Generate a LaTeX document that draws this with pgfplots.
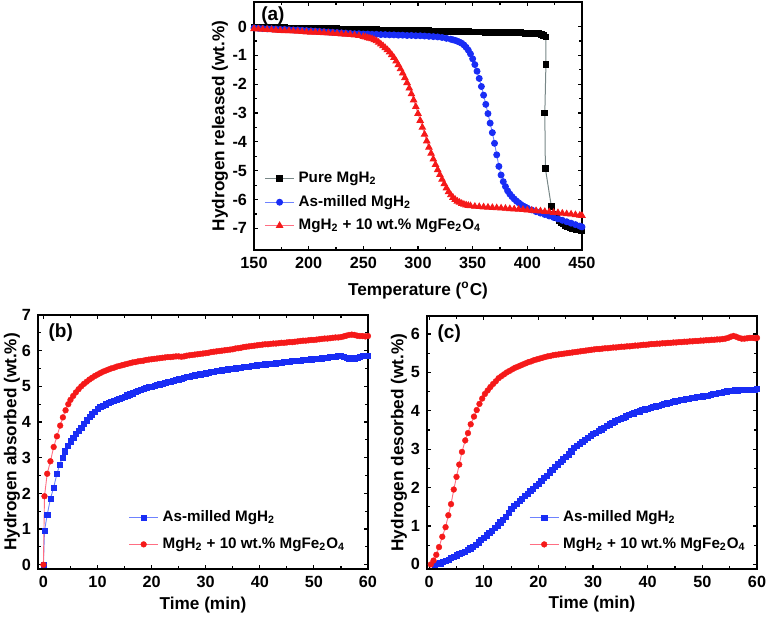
\documentclass[border=0pt]{standalone}
\usepackage{pgfplots}
\pgfplotsset{compat=1.18}
\usepackage{fontspec}
\setmainfont{Liberation Sans}
\definecolor{bmk}{RGB}{25,45,245}
\definecolor{bln}{RGB}{110,130,255}
\definecolor{rmk}{RGB}{245,25,25}
\definecolor{rln}{RGB}{255,110,130}
\definecolor{gln}{RGB}{120,135,135}
\pgfplotsset{
  panel/.style={
    scale only axis, anchor=south west,
    axis line style={line width=0.9pt},
    tick align=inside, major tick length=2.2pt, minor tick length=1.3pt,
    every tick/.style={black, line width=0.6pt},
    minor tick num=1,
    ticklabel style={font=\bfseries\fontsize{8.1}{9}\selectfont},
    /pgf/number format/assume math mode=true,
    label style={font=\bfseries\fontsize{8.6}{10}\selectfont},
    legend style={draw=none, fill=none, font=\bfseries\fontsize{7.6}{9}\selectfont, row sep=2.4pt, inner sep=1pt},
    legend cell align=left,
    legend image code/.code={
      \draw[#1] (0pt,0pt) -- (14.5pt,0pt);
      \draw[#1, only marks] plot coordinates {(7.25pt,0pt)};
    },
  },
  sq/.style={color=bln, line width=0.45pt, mark=square*, mark size=1.3pt, mark options={fill=bmk, draw=bmk, line width=0.2pt}},
  ci/.style={color=rln, line width=0.45pt, mark=*, mark size=1.45pt, mark options={fill=rmk, draw=rmk, line width=0.2pt}},
}
\begin{document}
\begin{tikzpicture}
\useasboundingbox (0,0) rectangle (383.5pt,309pt);
% ---------------- (a) ----------------
\begin{axis}[panel, at={(127pt,184pt)}, width=164pt, height=124pt,
  xmin=150, xmax=450, ymin=-7.75, ymax=0.85,
  xtick={150,200,...,450}, ytick={-7,-6,...,0},
  xlabel={Temperature (\textsuperscript{o}C)},
  ylabel={Hydrogen released (wt.\%)},
  xlabel style={at={(axis description cs:0.5,-0.163)}, anchor=center},
  ylabel style={at={(axis description cs:-0.104,0.5)}, anchor=center},
  legend style={at={(0.025,0.045)}, anchor=south west, row sep=0.8pt},
]
\addplot[color=gln, line width=0.5pt, mark=square*, mark size=1.45pt, mark options={fill=black, draw=black}] coordinates {
(150,-0.02)(154,-0.02)(158,-0.03)(162,-0.03)(166,-0.03)(170,-0.04)(174,-0.04)(178,-0.04)(182,-0.05)(186,-0.05)
(190,-0.05)(194,-0.06)(198,-0.06)(202,-0.06)(206,-0.07)(210,-0.07)(214,-0.07)(218,-0.08)(222,-0.08)(226,-0.08)
(230,-0.09)(234,-0.09)(238,-0.09)(242,-0.10)(246,-0.10)(250,-0.10)(254,-0.11)(258,-0.11)(262,-0.11)(266,-0.12)
(270,-0.12)(274,-0.12)(278,-0.13)(282,-0.13)(286,-0.13)(290,-0.14)(294,-0.14)(298,-0.14)(302,-0.15)(306,-0.15)
(310,-0.15)(314,-0.16)(318,-0.16)(322,-0.16)(326,-0.17)(330,-0.17)(334,-0.17)(338,-0.18)(342,-0.18)(346,-0.18)
(350,-0.19)(354,-0.19)(358,-0.19)(362,-0.20)(366,-0.20)(370,-0.20)(374,-0.21)(378,-0.21)(382,-0.21)(386,-0.22)
(390,-0.22)(394,-0.22)(398,-0.23)(402,-0.23)(406,-0.24)(410,-0.25)(413,-0.27)(415,-0.30)(417,-0.36)
(417,-1.33)(416,-3.0)(416.5,-4.92)(422,-6.25)
(425,-6.50)(427,-6.62)(429,-6.72)(431,-6.79)(433,-6.85)(435,-6.90)(437,-6.94)(439,-6.97)(441,-7.00)(443,-7.02)
(445,-7.04)(447,-7.05)(449,-7.06)(450,-7.07)};
\addlegendentry{Pure MgH\textsubscript{2}}
\addplot[color=bln, line width=0.45pt, mark=*, mark size=1.5pt, mark options={fill=bmk, draw=bmk}] coordinates {
(150,-0.05)(154,-0.06)(158,-0.07)(162,-0.08)(166,-0.08)(170,-0.09)(174,-0.10)(178,-0.10)(182,-0.11)(186,-0.12)
(190,-0.12)(194,-0.13)(198,-0.14)(202,-0.15)(206,-0.16)(210,-0.17)(214,-0.18)(218,-0.19)(222,-0.20)(226,-0.21)
(230,-0.22)(234,-0.23)(238,-0.24)(242,-0.25)(246,-0.25)(250,-0.26)(254,-0.26)(258,-0.27)(262,-0.27)(266,-0.28)
(270,-0.28)(274,-0.29)(278,-0.29)(282,-0.30)(286,-0.30)(290,-0.31)(294,-0.31)(298,-0.32)(302,-0.32)(306,-0.33)
(310,-0.34)(314,-0.35)(318,-0.36)(322,-0.38)(326,-0.41)(330,-0.44)(332,-0.46)(334,-0.48)(336,-0.51)(338,-0.54)
(340,-0.58)(342,-0.64)(344,-0.72)(346,-0.82)(348,-0.95)(350,-1.12)(352,-1.32)(354,-1.55)(356,-1.80)(358,-2.08)
(360,-2.38)(362,-2.70)(364,-3.02)(366,-3.35)(368,-3.68)(370,-4.05)(372,-4.45)(374,-4.85)(376,-5.15)(378,-5.38)
(380,-5.55)(382,-5.70)(384,-5.81)(386,-5.90)(388,-5.98)(390,-6.05)(392,-6.11)(394,-6.17)(396,-6.22)(398,-6.26)
(400,-6.30)(404,-6.36)(408,-6.42)(412,-6.47)(416,-6.52)(420,-6.57)(424,-6.62)(428,-6.67)(432,-6.72)(436,-6.77)
(440,-6.82)(444,-6.87)(448,-6.92)(450,-6.95)};
\addlegendentry{As-milled MgH\textsubscript{2}}
\addplot[color=rln, line width=0.45pt, mark=triangle*, mark size=1.8pt, mark options={fill=rmk, draw=rmk}] coordinates {
(150,-0.08)(154,-0.09)(158,-0.10)(162,-0.11)(166,-0.12)(170,-0.13)(174,-0.14)(178,-0.15)(182,-0.15)(186,-0.16)
(190,-0.17)(194,-0.18)(198,-0.19)(202,-0.20)(206,-0.20)(210,-0.21)(214,-0.22)(218,-0.23)(222,-0.24)(226,-0.25)
(230,-0.26)(234,-0.27)(238,-0.28)(242,-0.30)(246,-0.32)(250,-0.35)(252,-0.37)(254,-0.39)(256,-0.41)(258,-0.43)
(260,-0.46)(262,-0.50)(264,-0.55)(266,-0.61)(268,-0.67)(270,-0.74)(272,-0.81)(274,-0.89)(276,-0.98)(278,-1.08)
(280,-1.20)(282,-1.33)(284,-1.47)(286,-1.62)(288,-1.78)(290,-1.95)(292,-2.14)(294,-2.34)(296,-2.55)(298,-2.78)
(300,-3.02)(302,-3.26)(304,-3.50)(306,-3.74)(308,-3.97)(310,-4.19)(312,-4.40)(314,-4.60)(316,-4.79)(318,-4.97)
(320,-5.14)(322,-5.30)(324,-5.46)(326,-5.60)(328,-5.73)(330,-5.84)(332,-5.93)(334,-6.00)(336,-6.06)(338,-6.10)
(340,-6.14)(342,-6.17)(344,-6.19)(346,-6.21)(348,-6.22)(352,-6.24)(356,-6.25)(360,-6.26)(364,-6.27)(368,-6.28)
(372,-6.29)(376,-6.30)(380,-6.31)(384,-6.32)(388,-6.33)(392,-6.34)(396,-6.35)(400,-6.37)(404,-6.38)(408,-6.39)
(412,-6.40)(416,-6.42)(420,-6.43)(424,-6.45)(428,-6.46)(432,-6.48)(436,-6.50)(440,-6.51)(444,-6.53)(448,-6.55)(450,-6.56)};
\addlegendentry{MgH\textsubscript{2} + 10 wt.\% MgFe\textsubscript{2}O\textsubscript{4}}
\node[anchor=north west, font=\bfseries\fontsize{9.5}{11}\selectfont, inner sep=1pt] at (rel axis cs:0.015,0.99) {(a)};
\end{axis}
% ---------------- (b) ----------------
\begin{axis}[panel, at={(19pt,24.5pt)}, width=165pt, height=127pt,
  xmin=-1, xmax=60, ymin=-0.12, ymax=7,
  xtick={0,10,...,60}, ytick={0,1,...,7},
  xlabel={Time (min)},
  ylabel={Hydrogen absorbed (wt.\%)},
  xlabel style={at={(axis description cs:0.5,-0.14)}, anchor=center},
  ylabel style={at={(axis description cs:-0.079,0.5)}, anchor=center},
  legend style={at={(0.95,0.045)}, anchor=south east},
]
\addplot[sq] coordinates {
(0,0)(0.2,0.95)(0.7,1.4)(1.3,1.85)(1.9,2.17)(2.5,2.55)(3.0,2.8)(3.5,3.0)(4.0,3.18)(4.5,3.33)
(5.0,3.46)(5.5,3.57)(6.0,3.67)(6.5,3.76)(7.0,3.85)(7.5,3.95)(8.0,4.05)(8.5,4.14)(9.0,4.22)(9.5,4.30)
(10,4.37)(10.5,4.42)(11,4.46)(11.5,4.50)(12,4.54)(12.5,4.57)(13,4.60)(13.5,4.63)(14,4.66)(14.5,4.69)
(15,4.72)(15.5,4.75)(16,4.78)(16.5,4.81)(17,4.84)(17.5,4.87)(18,4.90)(18.5,4.93)(19,4.96)(19.5,4.98)
(20,5.00)(20.5,5.02)(21,5.04)(21.5,5.06)(22,5.08)(22.5,5.10)(23,5.12)(23.5,5.14)(24,5.16)(24.5,5.18)
(25,5.20)(25.5,5.22)(26,5.24)(26.5,5.26)(27,5.28)(27.5,5.30)(28,5.31)(28.5,5.32)(29,5.34)(29.5,5.36)
(30,5.37)(30.5,5.38)(31,5.40)(31.5,5.41)(32,5.43)(32.5,5.44)(33,5.45)(33.5,5.46)(34,5.48)(34.5,5.49)
(35,5.50)(35.5,5.51)(36,5.52)(36.5,5.53)(37,5.54)(37.5,5.55)(38,5.56)(38.5,5.57)(39,5.58)(39.5,5.59)
(40,5.60)(40.5,5.61)(41,5.62)(41.5,5.63)(42,5.64)(42.5,5.64)(43,5.65)(43.5,5.66)(44,5.67)(44.5,5.68)
(45,5.69)(45.5,5.70)(46,5.71)(46.5,5.72)(47,5.72)(47.5,5.73)(48,5.74)(48.5,5.75)(49,5.75)(49.5,5.76)
(50,5.77)(50.5,5.78)(51,5.78)(51.5,5.79)(52,5.80)(52.5,5.81)(53,5.82)(53.5,5.83)(54,5.84)(54.5,5.85)
(55,5.86)(55.5,5.84)(56,5.81)(56.5,5.79)(57,5.78)(57.5,5.79)(58,5.81)(58.5,5.83)(59,5.85)(59.5,5.86)(60,5.87)};
\addlegendentry{As-milled MgH\textsubscript{2}}
\addplot[ci] coordinates {
(0,0)(0.2,1.92)(0.7,2.55)(1.3,2.9)(1.9,3.3)(2.5,3.6)(3.1,3.9)(3.6,4.13)(4.1,4.33)(4.6,4.5)
(5.0,4.62)(5.5,4.73)(6.0,4.83)(6.5,4.92)(7.0,5.0)(7.5,5.07)(8.0,5.13)(8.5,5.19)(9.0,5.24)(9.5,5.29)
(10,5.33)(10.5,5.37)(11,5.41)(11.5,5.44)(12,5.47)(12.5,5.50)(13,5.52)(13.5,5.55)(14,5.57)(14.5,5.59)
(15,5.61)(15.5,5.63)(16,5.65)(16.5,5.67)(17,5.68)(17.5,5.70)(18,5.71)(18.5,5.72)(19,5.74)(19.5,5.75)
(20,5.76)(20.5,5.77)(21,5.78)(21.5,5.79)(22,5.80)(22.5,5.81)(23,5.82)(23.5,5.82)(24,5.83)(24.5,5.84)
(25,5.84)(25.5,5.83)(26,5.84)(26.5,5.86)(27,5.87)(27.5,5.88)(28,5.89)(28.5,5.90)(29,5.91)(29.5,5.92)
(30,5.93)(30.5,5.94)(31,5.96)(31.5,5.97)(32,5.98)(32.5,5.99)(33,6.00)(33.5,6.01)(34,6.02)(34.5,6.03)
(35,6.04)(35.5,6.06)(36,6.07)(36.5,6.08)(37,6.10)(37.5,6.11)(38,6.12)(38.5,6.13)(39,6.14)(39.5,6.15)
(40,6.16)(40.5,6.17)(41,6.18)(41.5,6.18)(42,6.19)(42.5,6.20)(43,6.20)(43.5,6.21)(44,6.22)(44.5,6.22)
(45,6.23)(45.5,6.24)(46,6.24)(46.5,6.25)(47,6.26)(47.5,6.27)(48,6.28)(48.5,6.28)(49,6.29)(49.5,6.30)
(50,6.30)(50.5,6.31)(51,6.32)(51.5,6.33)(52,6.34)(52.5,6.34)(53,6.35)(53.5,6.36)(54,6.37)(54.5,6.37)
(55,6.38)(55.5,6.40)(56,6.42)(56.5,6.44)(57,6.45)(57.5,6.44)(58,6.42)(58.5,6.41)(59,6.41)(59.5,6.40)(60,6.41)};
\addlegendentry{MgH\textsubscript{2} + 10 wt.\% MgFe\textsubscript{2}O\textsubscript{4}}
\node[anchor=north west, font=\bfseries\fontsize{9.5}{11}\selectfont, inner sep=1pt] at (rel axis cs:0.025,0.975) {(b)};
\end{axis}
% ---------------- (c) ----------------
\begin{axis}[panel, at={(213.5pt,24.5pt)}, width=165pt, height=126.5pt,
  xmin=-0.4, xmax=60, ymin=-0.12, ymax=6.47,
  xtick={0,10,...,60}, ytick={0,1,...,6},
  xlabel={Time (min)},
  ylabel={Hydrogen desorbed (wt.\%)},
  xlabel style={at={(axis description cs:0.5,-0.14)}, anchor=center},
  ylabel style={at={(axis description cs:-0.085,0.5)}, anchor=center},
  legend style={at={(0.985,0.045)}, anchor=south east},
]
\addplot[sq] coordinates {
(1,0)(1.5,0.01)(2,0.03)(2.5,0.06)(3,0.10)(3.5,0.13)(4,0.17)(4.5,0.20)(5,0.24)(5.5,0.27)
(6,0.30)(6.5,0.34)(7,0.38)(7.5,0.42)(8,0.47)(8.5,0.52)(9,0.58)(9.5,0.64)(10,0.70)(10.5,0.76)
(11,0.82)(11.5,0.88)(12,0.95)(12.5,1.02)(13,1.10)(13.5,1.17)(14,1.25)(14.5,1.35)(15,1.45)(15.5,1.52)
(16,1.58)(16.5,1.65)(17,1.72)(17.5,1.78)(18,1.85)(18.5,1.91)(19,1.98)(19.5,2.04)(20,2.10)(20.5,2.17)
(21,2.25)(21.5,2.32)(22,2.40)(22.5,2.47)(23,2.55)(23.5,2.61)(24,2.68)(24.5,2.74)(25,2.80)(25.5,2.87)
(26,2.95)(26.5,3.03)(27,3.10)(27.5,3.15)(28,3.20)(28.5,3.25)(29,3.30)(29.5,3.35)(30,3.40)(30.5,3.44)
(31,3.48)(31.5,3.52)(32,3.57)(32.5,3.61)(33,3.65)(33.5,3.69)(34,3.73)(34.5,3.76)(35,3.80)(35.5,3.83)
(36,3.86)(36.5,3.89)(37,3.92)(37.5,3.94)(38,3.97)(38.5,3.99)(39,4.02)(39.5,4.04)(40,4.06)(40.5,4.08)
(41,4.10)(41.5,4.12)(42,4.14)(42.5,4.16)(43,4.18)(43.5,4.20)(44,4.22)(44.5,4.23)(45,4.25)(45.5,4.26)
(46,4.28)(46.5,4.29)(47,4.31)(47.5,4.32)(48,4.34)(48.5,4.35)(49,4.36)(49.5,4.37)(50,4.38)(50.5,4.39)
(51,4.40)(51.5,4.42)(52,4.44)(52.5,4.45)(53,4.47)(53.5,4.48)(54,4.50)(54.5,4.51)(55,4.52)(55.5,4.53)
(56,4.54)(56.5,4.54)(57,4.55)(57.5,4.55)(58,4.56)(58.5,4.56)(59,4.55)(59.5,4.56)(60,4.57)};
\addlegendentry{As-milled MgH\textsubscript{2}}
\addplot[ci] coordinates {
(0.3,0)(0.8,0.10)(1.3,0.25)(1.8,0.45)(2.4,0.72)(3.0,0.97)(3.5,1.28)(4.0,1.57)(4.5,1.95)(5.0,2.28)
(5.5,2.60)(6.0,2.93)(6.6,3.23)(7.1,3.42)(7.6,3.65)(8.2,3.85)(8.7,4.02)(9.2,4.18)(9.7,4.32)(10.2,4.44)
(10.7,4.53)(11.2,4.62)(11.7,4.70)(12.2,4.77)(12.7,4.85)(13.2,4.90)(13.7,4.95)(14.2,5.00)(14.7,5.04)(15.2,5.08)
(15.7,5.12)(16.2,5.15)(16.7,5.18)(17.2,5.21)(17.7,5.24)(18.2,5.27)(18.7,5.29)(19.2,5.32)(19.7,5.34)(20.2,5.36)
(20.7,5.38)(21.2,5.40)(21.7,5.42)(22.2,5.43)(22.7,5.45)(23.2,5.46)(23.7,5.47)(24.2,5.48)(24.7,5.49)(25.2,5.50)
(25.7,5.51)(26.2,5.52)(26.7,5.53)(27.2,5.54)(27.7,5.55)(28.2,5.56)(28.7,5.57)(29.2,5.58)(29.7,5.59)(30.2,5.60)
(30.7,5.61)(31.2,5.61)(31.7,5.62)(32.2,5.63)(32.7,5.63)(33.2,5.64)(33.7,5.65)(34.2,5.65)(34.7,5.66)(35.2,5.67)
(35.7,5.67)(36.2,5.68)(36.7,5.68)(37.2,5.69)(37.7,5.70)(38.2,5.70)(38.7,5.71)(39.2,5.72)(39.7,5.72)(40.2,5.73)
(40.7,5.74)(41.2,5.74)(41.7,5.75)(42.2,5.75)(42.7,5.76)(43.2,5.76)(43.7,5.77)(44.2,5.77)(44.7,5.78)(45.2,5.78)
(45.7,5.79)(46.2,5.79)(46.7,5.80)(47.2,5.80)(47.7,5.81)(48.2,5.81)(48.7,5.82)(49.2,5.82)(49.7,5.83)(50.2,5.83)
(50.7,5.84)(51.2,5.84)(51.7,5.85)(52.2,5.85)(52.7,5.86)(53.2,5.86)(53.7,5.87)(54.2,5.88)(54.7,5.90)(55.2,5.93)
(55.7,5.95)(56.2,5.93)(56.7,5.90)(57.2,5.88)(57.7,5.88)(58.2,5.89)(58.7,5.90)(59.2,5.90)(59.7,5.89)(60,5.90)};
\addlegendentry{MgH\textsubscript{2} + 10 wt.\% MgFe\textsubscript{2}O\textsubscript{4}}
\node[anchor=north west, font=\bfseries\fontsize{9.5}{11}\selectfont, inner sep=1pt] at (rel axis cs:0.025,0.975) {(c)};
\end{axis}
\end{tikzpicture}
\end{document}
